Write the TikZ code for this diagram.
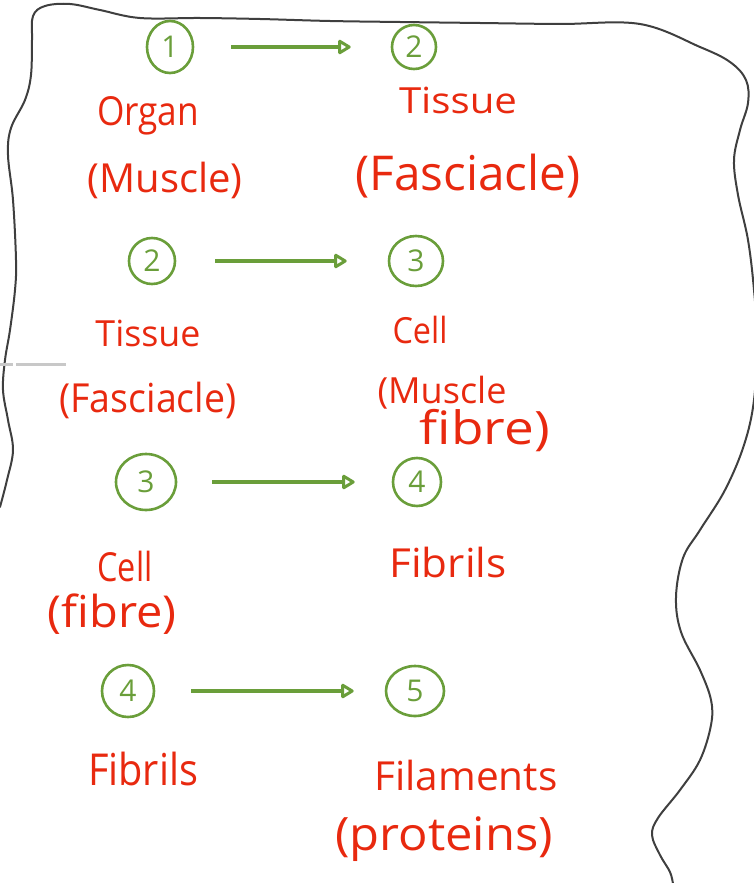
\documentclass[tikz,border=0pt]{standalone}
\usepackage{fontspec}
\setmainfont{Open Sans}
\usetikzlibrary{arrows.meta,shapes.geometric}
\definecolor{inkred}{HTML}{E8290F}
\definecolor{inkgreen}{HTML}{6A9E3A}
\definecolor{inkgray}{HTML}{3F3F3F}
\definecolor{rulegray}{HTML}{C8C8C8}
% hand-lettered word stretched to a given width (pt), height kept
\newcommand\handword[2]{\resizebox{#1pt}{\height}{#2}}

\begin{document}
\begin{tikzpicture}[x=1pt,y=-1pt,
  stage/.style={ellipse, draw=inkgreen, line width=2.6pt, inner sep=0pt,
    text=inkgreen, font=\fontsize{30}{30}\selectfont},
  lbl/.style={text=inkred, inner sep=0pt, anchor=base,
    font=\fontsize{40}{44}\selectfont},
  flow/.style={draw=inkgreen, line width=3.2pt,
    -{Triangle[open,round,length=14pt,width=16pt,line width=3pt]}},
  border/.style={draw=inkgray, line width=2pt, line cap=round, line join=round}]
\useasboundingbox (0,0) rectangle (753,883);

% wavy page border
\draw[border] plot[smooth, tension=0.6] coordinates {
  (0,507) (7,480) (13,450) (8,420) (3,390) (5,360) (10,330) (15,290)
  (16,260) (13,200) (8,155) (11,128) (25,100) (31,75) (32,40) (33,16)
  (45,6) (70,4) (100,10) (140,18) (200,18) (260,19) (330,21) (400,22)
  (480,23) (560,24) (640,24) (700,47) (730,62) (746,80) (748,103)
  (740,130) (734,160) (738,195) (748,240) (754,290) (757,340) (754,400)
  (744,445) (725,490) (700,530) (683,558) (676,597) (681,632) (700,670)
  (711,700) (711,725) (700,760) (680,790) (658,818) (652,835) (660,855)
  (670,872) (673,884)};

% faint rule at the left margin
\draw[rulegray, line width=3pt] (0,364) -- (13,364);
\draw[rulegray, line width=3pt] (16,364) -- (66,364);

% row 1: organ -> tissue
\node[stage, minimum width=46pt, minimum height=52pt] (r1a) at (170,47) {1};
\node[stage, minimum width=44pt, minimum height=44pt] (r1b) at (414,47) {2};
\draw[flow, shorten <=37pt, shorten >=40pt] (r1a) -- (r1b);
\node[lbl] (organ) at (148,125) {\handword{102}{Organ}};
\node[lbl] (organsub) at (165,192) {\handword{155}{(Muscle)}};
\node[lbl, font=\fontsize{36}{40}\selectfont] (tissue1) at (458,113) {\handword{118}{Tissue}};
\node[lbl, font=\fontsize{48}{52}\selectfont] (tissue1sub) at (468,190) {\handword{225}{(Fasciacle)}};

% row 2: tissue -> cell
\node[stage, minimum width=46pt, minimum height=46pt] (r2a) at (152,261) {2};
\node[stage, minimum width=54pt, minimum height=50pt] (r2b) at (416,261) {3};
\draw[flow, shorten <=39pt, shorten >=41pt] (r2a) -- (r2b);
\node[lbl, font=\fontsize{36}{40}\selectfont] (tissue2) at (148,346) {\handword{105}{Tissue}};
\node[lbl] (tissue2sub) at (148,412) {\handword{177}{(Fasciacle)}};
\node[lbl, font=\fontsize{36}{40}\selectfont] (cell1) at (420,343) {\handword{55}{Cell}};
\node[lbl, font=\fontsize{36}{40}\selectfont] (cell1sub) at (442,403) {\handword{129}{(Muscle}};
\node[lbl, font=\fontsize{46}{50}\selectfont] (cell1sub2) at (485,444) {\handword{130}{fibre)}};

% row 3: cell -> fibrils
\node[stage, minimum width=60pt, minimum height=56pt] (r3a) at (146,482) {3};
\node[stage, minimum width=48pt, minimum height=48pt] (r3b) at (417,482) {4};
\draw[flow, shorten <=35pt, shorten >=37pt] (r3a) -- (r3b);
\node[lbl] (cell2) at (125,581) {\handword{55}{Cell}};
\node[lbl, font=\fontsize{44}{48}\selectfont] (cell2sub) at (112,627) {\handword{129}{(fibre)}};
\node[lbl] (fibrils1) at (448,577) {\handword{117}{Fibrils}};

% row 4: fibrils -> filaments
\node[stage, minimum width=52pt, minimum height=52pt] (r4a) at (128,691) {4};
\node[stage, minimum width=58pt, minimum height=50pt] (r4b) at (415,691) {5};
\draw[flow, shorten <=36pt, shorten >=31pt] (r4a) -- (r4b);
\node[lbl, font=\fontsize{44}{48}\selectfont] (fibrils2) at (143,785) {\handword{110}{Fibrils}};
\node[lbl] (filaments) at (466,790) {\handword{183}{Filaments}};
\node[lbl, font=\fontsize{46}{50}\selectfont] (proteins) at (444,850) {\handword{218}{(proteins)}};
\end{tikzpicture}
\end{document}
